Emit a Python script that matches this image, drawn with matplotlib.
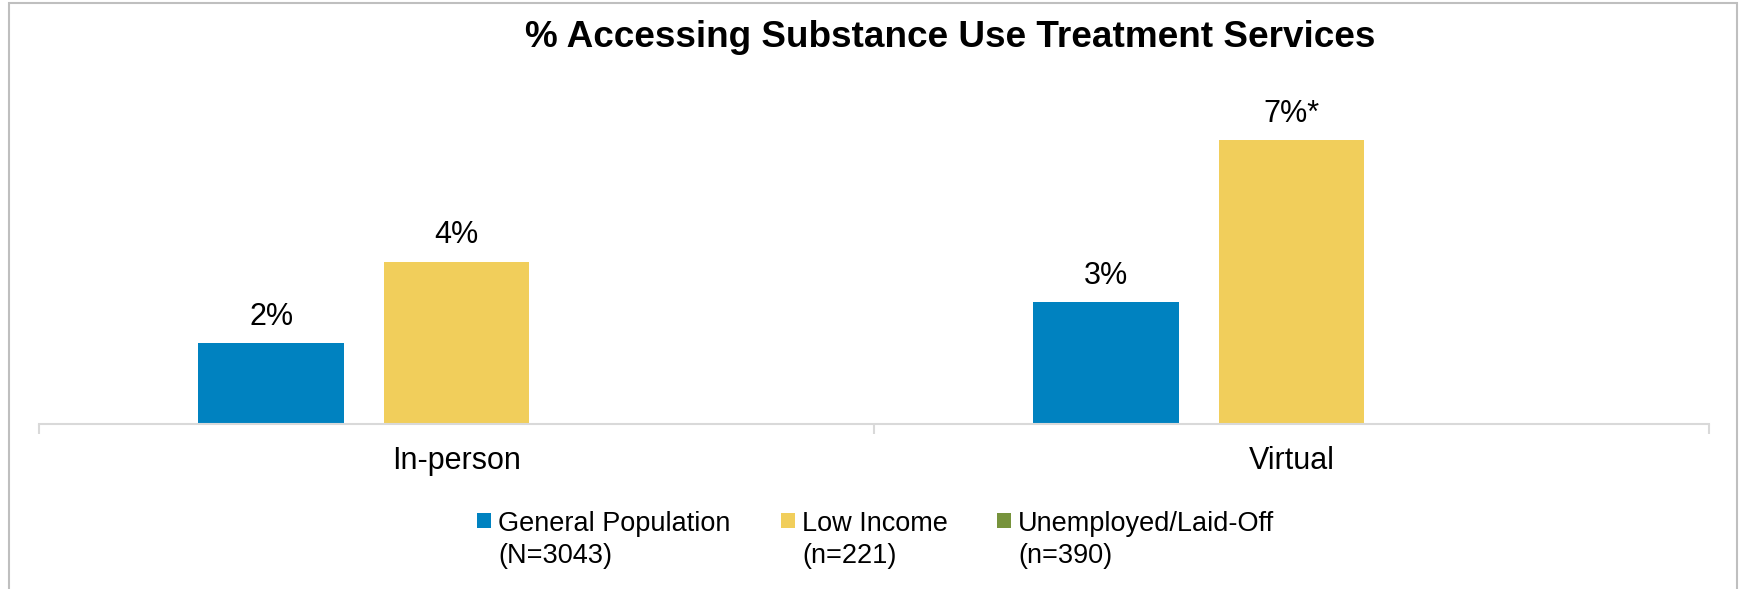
import numpy as np
import matplotlib.pyplot as plt
from matplotlib.patches import Rectangle

plt.rcParams['font.family'] = ['Liberation Sans', 'DejaVu Sans']

# data
categories = ['In-person', 'Virtual']
series_names = ['General Population\n(N=3043)', 'Low Income\n(n=221)', 'Unemployed/Laid-Off\n(n=390)']
general_pop = [2, 3]
low_income = [4, 7]
unemployed = [np.nan, np.nan]   # no values reported for this group
low_income_sig = ['', '*']       # significance marker vs. general population

colors = ['#0082C0', '#F1CE5B', '#77933C']

W, H = 1742, 589
fig = plt.figure(figsize=(W / 100, H / 100), dpi=100)
ax = fig.add_axes([39 / W, 165 / H, 1670 / W, 325 / H])

x = np.arange(len(categories))
offsets = [-0.222, 0.0, 0.222]
width = 0.174

bars_gp = ax.bar(x + offsets[0], general_pop, width, color=colors[0])
bars_li = ax.bar(x + offsets[1], low_income, width, color=colors[1])
bars_un = ax.bar(x + offsets[2], unemployed, width, color=colors[2])

ax.bar_label(bars_gp, labels=[f'{v}%' for v in general_pop], padding=8, fontsize=22)
ax.bar_label(bars_li, labels=[f'{v}%{s}' for v, s in zip(low_income, low_income_sig)],
             padding=8, fontsize=22)

ax.set_xlim(-0.5, len(categories) - 0.5)
ax.set_ylim(0, 8)
ax.set_yticks([])

# ticks on the category boundaries, labels centred on the groups
ax.set_xticks(np.arange(-0.5, len(categories), 1.0))
ax.set_xticklabels([])
ax.set_xticks(x, minor=True)
ax.set_xticklabels(categories, minor=True, fontsize=22)
ax.tick_params(axis='x', which='major', direction='out', length=7.5, width=1.5, color='#D9D9D9')
ax.tick_params(axis='x', which='minor', length=0, pad=16)

for side in ['left', 'right', 'top']:
    ax.spines[side].set_visible(False)
ax.spines['bottom'].set_color('#D9D9D9')
ax.spines['bottom'].set_linewidth(1.5)

fig.text(950 / W, 1 - 47 / H, '% Accessing Substance Use Treatment Services',
         ha='center', va='baseline', fontsize=26.6, fontweight='bold')

# legend row under the chart
marker_x = [477, 781, 997]
for name, color, mx in zip(series_names, colors, marker_x):
    fig.patches.append(Rectangle((mx / W, 1 - 528 / H), 14 / W, 15 / H,
                                 facecolor=color, edgecolor='none',
                                 transform=fig.transFigure))
    fig.text((mx + 21) / W, 1 - 511 / H, name, ha='left', va='top',
             fontsize=19.5, linespacing=1.32)

# thin grey frame around the chart area
fig.patches.append(Rectangle((9 / W, -0.05), 1728 / W, 1.05 - 3 / H, fill=False,
                             edgecolor='#BFBFBF', linewidth=1.5,
                             transform=fig.transFigure))

fig.savefig('out.png', dpi=100, facecolor='white')
